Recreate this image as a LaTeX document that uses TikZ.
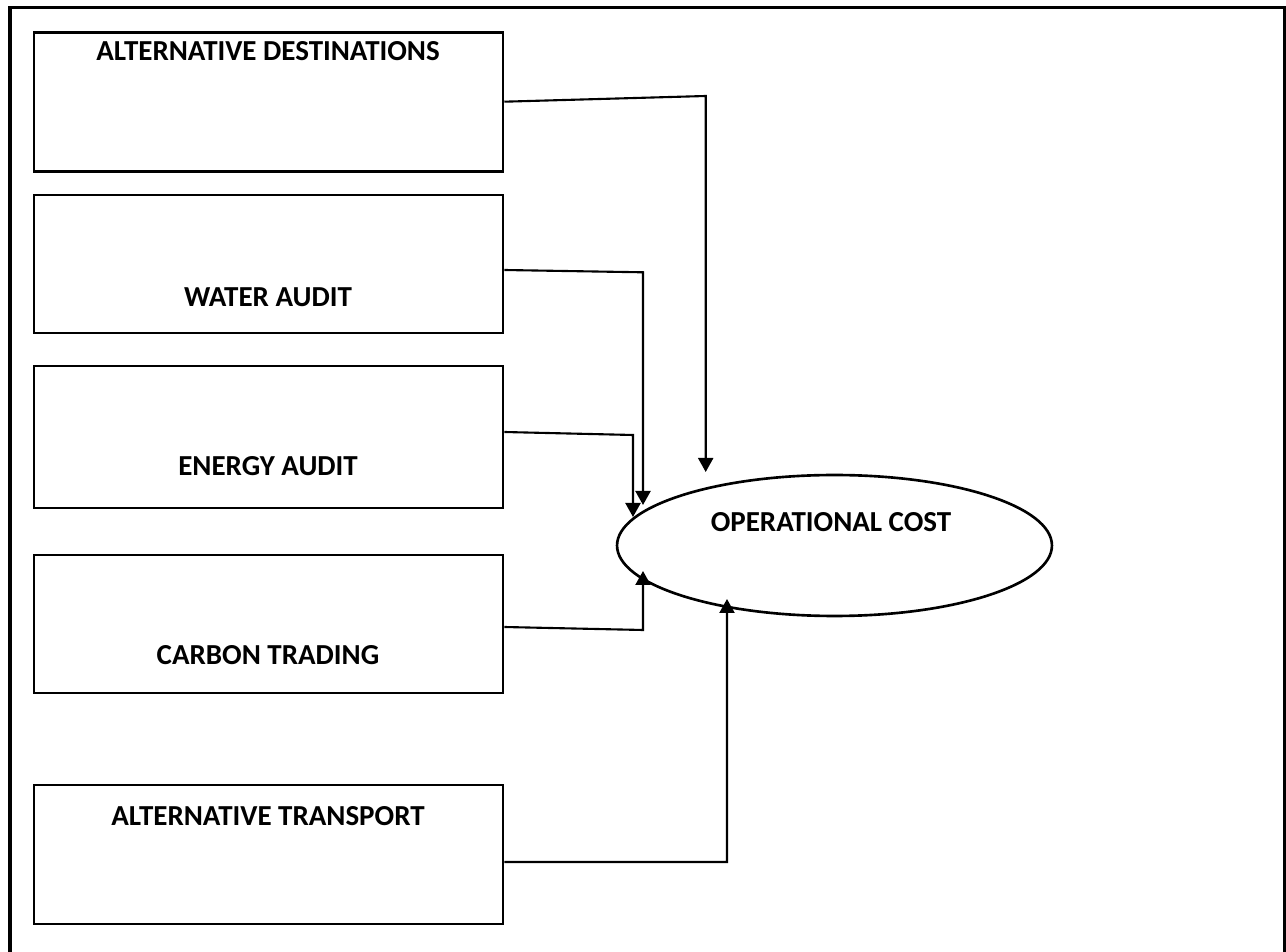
\documentclass[tikz,border=0pt]{standalone}
\usepackage{fontspec}
\setmainfont{Carlito}
\usetikzlibrary{arrows.meta,shapes.geometric}

\begin{document}
\begin{tikzpicture}[x=0.02cm, y=-0.02cm,
	box/.style={draw, line width=1.5pt, minimum width=9.38cm, inner sep=0},
	txt/.style={font=\fontsize{16.5}{19}\selectfont\bfseries, inner sep=0},
	link/.style={line width=1.2pt, -{Triangle[width=0.3cm,length=0.28cm]}}]
	\useasboundingbox (0,0) rectangle (1286,952);
	% Frame
	\draw [line width=2.2pt] (10,952) -- (10,7.5) -- (1285,7.5) -- (1285,952);
	% Boxes
	\foreach \n/\t/\b/\y/\s in {dest/32.5/171.5/51.5/ALTERNATIVE DESTINATIONS,
			water/195/333/297/WATER AUDIT,
			energy/366/508/466/ENERGY AUDIT,
			carbon/555/693/655/CARBON TRADING,
			trans/785/924/816/ALTERNATIVE TRANSPORT} {
		\node [box, minimum height={(\b-\t)*0.02cm}] (\n) at (268.5,{(\t+\b)/2}) {};
		\node [txt] (\n-t) at (268,\y) {\s};
	}
	% Cost
	\node [draw, ellipse, line width=1.5pt, minimum width=8.7cm, minimum height=2.82cm, inner sep=0] (cost) at (834.5,545.5) {};
	\node [txt] (cost-t) at (831,522.5) {OPERATIONAL COST};
	% Corners and tips
	\coordinate (k1) at (705.7,96);   \coordinate (e1) at (705.7,472);
	\coordinate (k2) at (643,272.3);  \coordinate (e2) at (643,505);
	\coordinate (k3) at (633,435);    \coordinate (e3) at (633,517);
	\coordinate (k4) at (643,630);    \coordinate (e4) at (643,571);
	\coordinate (k5) at (727,862);    \coordinate (e5) at (727,599);
	% Links
	\draw [link] ([yshift=0.006cm]dest.east) -- (k1) -- (e1);
	\draw [link] ([yshift=-0.12cm]water.east) -- (k2) -- (e2);
	\draw [link] ([yshift=0.1cm]energy.east) -- (k3) -- (e3);
	\draw [link] ([yshift=-0.06cm]carbon.east) -- (k4) -- (e4);
	\draw [link] ([yshift=-0.15cm]trans.east) -- (k5) -- (e5);
\end{tikzpicture}
\end{document}
